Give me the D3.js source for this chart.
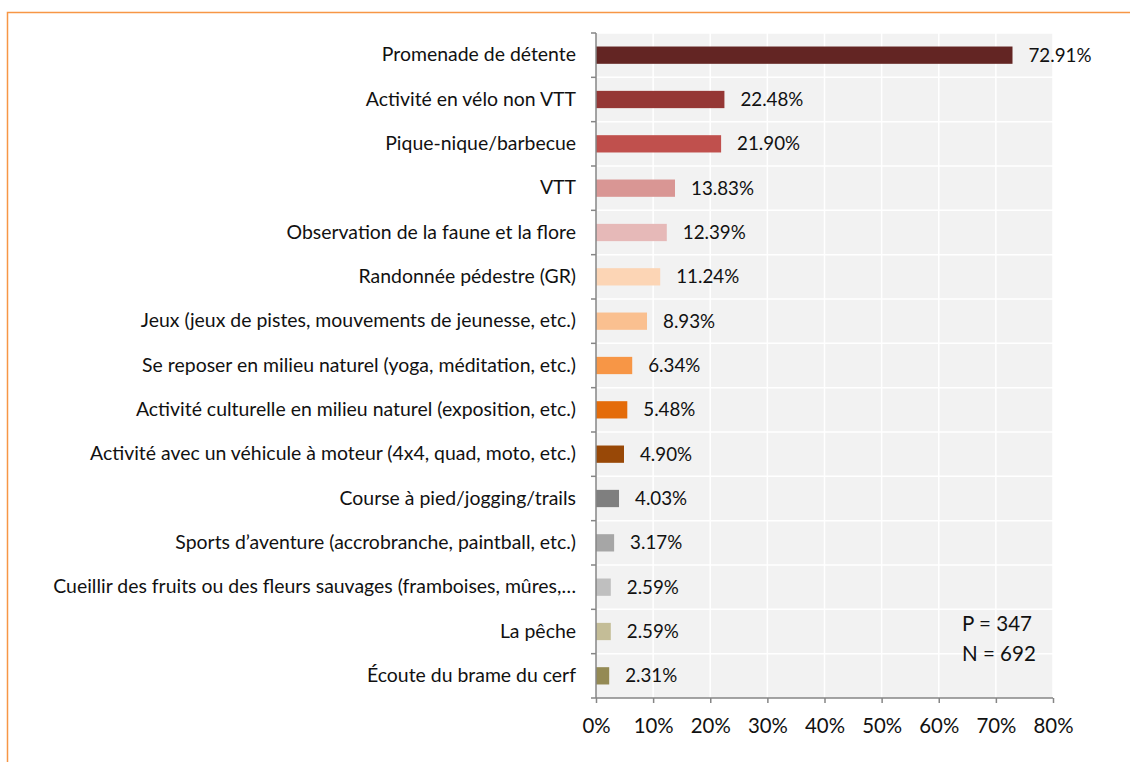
<!DOCTYPE html>
<html><head><meta charset="utf-8">
<script src="https://cdn.jsdelivr.net/npm/d3@7"></script>
<style>body{margin:0;background:#fff;} svg{display:block;}</style>
</head><body>
<svg id="chart" width="1130" height="762"></svg>
<script>
const categories = [
  "Promenade de détente",
  "Activité en vélo non VTT",
  "Pique-nique/barbecue",
  "VTT",
  "Observation de la faune et la flore",
  "Randonnée pédestre (GR)",
  "Jeux (jeux de pistes, mouvements de jeunesse, etc.)",
  "Se reposer en milieu naturel (yoga, méditation, etc.)",
  "Activité culturelle en milieu naturel (exposition, etc.)",
  "Activité avec un véhicule à moteur (4x4, quad, moto, etc.)",
  "Course à pied/jogging/trails",
  "Sports d’aventure (accrobranche, paintball, etc.)",
  "Cueillir des fruits ou des fleurs sauvages (framboises, mûres,…",
  "La pêche",
  "Écoute du brame du cerf"
];
const values = [72.91, 22.48, 21.90, 13.83, 12.39, 11.24, 8.93, 6.34, 5.48, 4.90, 4.03, 3.17, 2.59, 2.59, 2.31];
const colors = ["#632523","#953735","#c0504d","#d99694","#e6b9b8","#fcd5b5","#fac090","#f79646","#e46c0a","#984807","#7f7f7f","#a6a6a6","#bfbfbf","#c4bd97","#948a54"];
const xTicks = [0,10,20,30,40,50,60,70,80];
const notes = ["P = 347", "N = 692"];

const FONT = "Lato, sans-serif";
const svg = d3.select("#chart");

function fitSize(text, target) {
  const t = svg.append("text").attr("font-family", FONT).attr("font-size", 20).text(text);
  const w = t.node().getComputedTextLength();
  t.remove();
  return 20 * target / w;
}
const catSize = fitSize(categories[12], 523);
const valSize = fitSize("72.91%", 63);
const tickSize = fitSize("10%", 40);
const noteSize = fitSize("P = 347", 70);

svg.append("rect").attr("x", 7.5).attr("y", 12.5).attr("width", 1300).attr("height", 900)
  .attr("fill", "none").attr("stroke", "#f79646").attr("stroke-width", 1.5);

const pLeft = 596, pRight = 1053, pTop = 33, pBottom = 698;
const x = d3.scaleLinear().domain([0, 80]).range([pLeft, pRight]);
const y = d3.scaleBand().domain(categories).range([pTop, pBottom]).paddingInner(0.61).paddingOuter(0.305);
const step = y.step();

svg.append("rect").attr("x", pLeft).attr("y", pTop).attr("width", pRight - pLeft).attr("height", pBottom - pTop).attr("fill", "#f2f2f2");

svg.append("g").selectAll("line").data(xTicks.slice(1)).join("line")
  .attr("x1", d => x(d)).attr("x2", d => x(d)).attr("y1", pTop).attr("y2", pBottom)
  .attr("stroke", "#ffffff").attr("stroke-width", 1.5);
const bounds = d3.range(categories.length + 1).map(i => pTop + i * step);
svg.append("g").selectAll("line").data(bounds.slice(0, -1)).join("line")
  .attr("x1", pLeft).attr("x2", pRight).attr("y1", d => d).attr("y2", d => d)
  .attr("stroke", "#ffffff").attr("stroke-width", 1.5);

svg.append("g").selectAll("rect").data(values).join("rect")
  .attr("x", x(0)).attr("y", (d, i) => y(categories[i]))
  .attr("width", d => x(d) - x(0)).attr("height", y.bandwidth())
  .attr("fill", (d, i) => colors[i]);

svg.append("g").selectAll("text").data(values).join("text")
  .attr("x", d => x(d) + 16).attr("y", (d, i) => y(categories[i]) + y.bandwidth() / 2)
  .attr("dy", "0.35em").attr("font-family", FONT).attr("font-size", valSize).attr("fill", "#111")
  .text(d => d.toFixed(2) + "%");

const yAxis = svg.append("g").attr("transform", `translate(${pLeft},0)`)
  .call(d3.axisLeft(y).tickSize(0).tickPadding(20));
yAxis.select(".domain").remove();
yAxis.selectAll("text").attr("font-family", FONT).attr("font-size", catSize).attr("fill", "#111");
svg.append("line").attr("x1", pLeft).attr("x2", pLeft).attr("y1", pTop).attr("y2", pBottom)
  .attr("stroke", "#868686").attr("stroke-width", 1.5);
svg.append("g").selectAll("line").data(bounds).join("line")
  .attr("x1", pLeft - 5).attr("x2", pLeft).attr("y1", d => d).attr("y2", d => d)
  .attr("stroke", "#868686").attr("stroke-width", 1.5);

const xAxis = svg.append("g").attr("transform", `translate(0,${pBottom})`)
  .call(d3.axisBottom(x).tickValues(xTicks).tickSize(5).tickPadding(16).tickFormat(d => d + "%"));
xAxis.select(".domain").attr("stroke", "#868686").attr("stroke-width", 1.5).attr("d", `M${pLeft},0H${pRight}`);
xAxis.selectAll(".tick line").attr("stroke", "#868686").attr("stroke-width", 1.5);
xAxis.selectAll("text").attr("font-family", FONT).attr("font-size", tickSize).attr("fill", "#111");

svg.append("g").selectAll("text").data(notes).join("text")
  .attr("x", 962).attr("y", (d, i) => 631 + i * 30)
  .attr("font-family", FONT).attr("font-size", noteSize).attr("fill", "#111").text(d => d);
</script>
</body></html>
